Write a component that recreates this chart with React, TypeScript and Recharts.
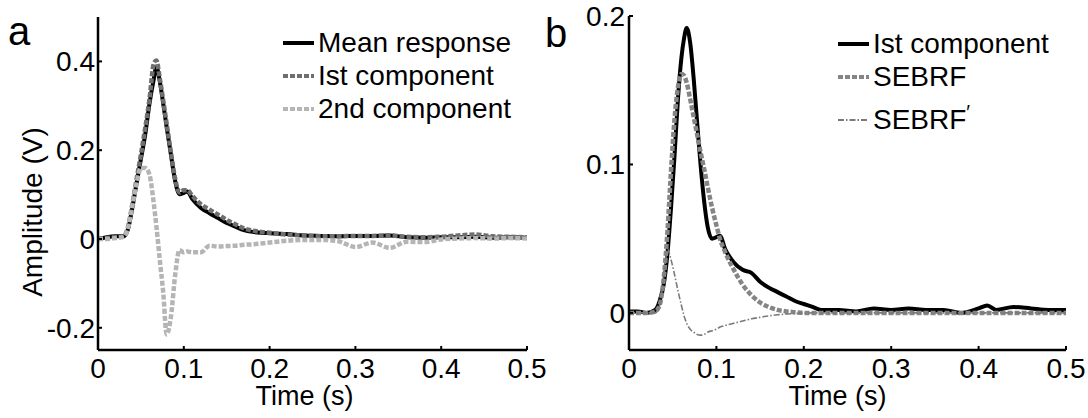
import React from "react";
import { LineChart, Line, XAxis, YAxis, Legend, Label } from "recharts";

const FONT = "'Liberation Sans', Arial, Helvetica, sans-serif";

// panel a: mean response and its two components
const timeA = [
  0, 0.01, 0.02, 0.03, 0.035, 0.04, 0.045, 0.05, 0.055, 0.06, 0.065, 0.068, 0.072, 0.076, 0.08,
  0.085, 0.09, 0.095, 0.1, 0.104, 0.11, 0.12, 0.13, 0.14, 0.15, 0.16, 0.17, 0.18, 0.19, 0.2,
  0.22, 0.24, 0.26, 0.28, 0.3, 0.32, 0.34, 0.36, 0.38, 0.4, 0.42, 0.44, 0.46, 0.48, 0.5,
];
const meanResponse = [
  0, 0.004, 0.006, 0.006, 0.022, 0.07, 0.126, 0.18, 0.235, 0.305, 0.36, 0.388, 0.355, 0.305, 0.252,
  0.19, 0.13, 0.101, 0.104, 0.107, 0.09, 0.07, 0.058, 0.047, 0.036, 0.028, 0.02, 0.016, 0.014, 0.013,
  0.011, 0.008, 0.007, 0.006, 0.007, 0.007, 0.008, 0.004, 0.003, 0.004, 0.004, 0.005, 0.003, 0.004, 0.003,
];
const firstCompA = [
  0, 0.002, 0.004, 0.006, 0.027, 0.078, 0.135, 0.19, 0.25, 0.315, 0.395, 0.402, 0.362, 0.312, 0.26,
  0.195, 0.135, 0.105, 0.11, 0.11, 0.097, 0.078, 0.066, 0.055, 0.043, 0.033, 0.024, 0.019, 0.016, 0.014,
  0.01, 0.008, 0.006, 0.006, 0.007, 0.007, 0.008, 0.005, 0.004, 0.005, 0.008, 0.01, 0.006, 0.005, 0.004,
];
const secondCompA = [
  0, 0, 0.002, 0.005, 0.025, 0.075, 0.125, 0.16, 0.16, 0.145, 0.08, 0.03, -0.047, -0.12, -0.215,
  -0.175, -0.08, -0.025, -0.03, -0.028, -0.03, -0.03, -0.015, -0.017, -0.016, -0.015, -0.013, -0.012, -0.01, -0.008,
  -0.004, -0.002, -0.002, -0.005, -0.018, -0.008, -0.02, -0.006, -0.007, -0.001, 0.001, 0.002, 0.001, 0.002, 0.001,
];

// panel b: first component against the SEBRF fit
const timeB = [
  0, 0.01, 0.02, 0.03, 0.035, 0.04, 0.044, 0.048, 0.052, 0.056, 0.06, 0.063, 0.066, 0.07, 0.074,
  0.078, 0.082, 0.086, 0.09, 0.095, 0.1, 0.104, 0.11, 0.12, 0.13, 0.14, 0.15, 0.16, 0.17, 0.18,
  0.19, 0.2, 0.21, 0.22, 0.24, 0.26, 0.28, 0.3, 0.32, 0.34, 0.36, 0.38, 0.4, 0.41, 0.42, 0.44,
  0.46, 0.48, 0.5,
];
const firstCompB = [
  0.001, 0.001, 0, 0.002, 0.008, 0.02, 0.04, 0.07, 0.105, 0.144, 0.172, 0.185, 0.192, 0.182, 0.158,
  0.128, 0.099, 0.075, 0.058, 0.05, 0.051, 0.052, 0.043, 0.034, 0.029, 0.027, 0.021, 0.017, 0.014, 0.011,
  0.008, 0.006, 0.004, 0.002, 0.002, 0.001, 0.003, 0.002, 0.003, 0.002, 0.002, 0, 0.003, 0.005, 0.002, 0.004,
  0.003, 0.002, 0.002,
];
const sebrf = [
  0, 0, 0, 0.001, 0.005, 0.025, 0.055, 0.095, 0.13, 0.152, 0.161, 0.16, 0.155, 0.144, 0.132,
  0.12, 0.108, 0.097, 0.085, 0.071, 0.059, 0.05, 0.041, 0.029, 0.019, 0.012, 0.007, 0.004, 0.002, 0.001,
  0.0005, 0, 0, 0, 0, 0, 0, 0, 0, 0, 0, 0, 0, 0, 0, 0,
  0, 0, 0,
];
const sebrfPrime = [
  0, 0, 0, 0, 0.005, 0.025, 0.043, 0.036, 0.026, 0.015, 0.005, -0.002, -0.007, -0.011, -0.013,
  -0.0145, -0.015, -0.0145, -0.013, -0.012, -0.011, -0.0095, -0.0085, -0.007, -0.0055, -0.004, -0.003, -0.002, -0.0013, -0.0008,
  -0.0004, -0.0002, 0, 0, 0, 0, 0, 0, 0, 0, 0, 0, 0, 0, 0, 0,
  0, 0, 0,
];

const xTicks = [0, 0.1, 0.2, 0.3, 0.4, 0.5];
const yTicksA = [-0.2, 0, 0.2, 0.4];
const yTicksB = [0, 0.1, 0.2];

type Series = { key: string; name: string; color: string; width: number; dash?: string };

const seriesA: Series[] = [
  { key: "mean", name: "Mean response", color: "#000000", width: 4 },
  { key: "first", name: "Ist component", color: "#6f6f6f", width: 4.5, dash: "5 2" },
  { key: "second", name: "2nd component", color: "#b5b5b5", width: 4.5, dash: "5 2" },
];
const seriesB: Series[] = [
  { key: "first", name: "Ist component", color: "#000000", width: 4 },
  { key: "sebrf", name: "SEBRF", color: "#858585", width: 4.5, dash: "5 2" },
  { key: "prime", name: "SEBRF′", color: "#7a7a7a", width: 1.6, dash: "6 2 1.5 2" },
];

const dataA = timeA.map((t, i) => ({
  t,
  mean: meanResponse[i],
  first: firstCompA[i],
  second: secondCompA[i],
}));
const dataB = timeB.map((t, i) => ({
  t,
  first: firstCompB[i],
  sebrf: sebrf[i],
  prime: sebrfPrime[i],
}));

const tickStyle = { fill: "#000", fontSize: 28, fontFamily: FONT };
const axisLine = { stroke: "#000", strokeWidth: 2.5 };
const tickLine = { stroke: "#000", strokeWidth: 2 };

function LegendBox({ items, gap }: { items: Series[]; gap: number }) {
  return (
    <div style={{ fontFamily: FONT, fontSize: 28, color: "#000", lineHeight: "32px" }}>
      {items.map((s, i) => {
        const prime = s.name.endsWith("′");
        const label = prime ? s.name.slice(0, -1) : s.name;
        return (
          <div
            key={s.key}
            style={{ display: "flex", alignItems: "center", height: 33, marginTop: i === 2 ? gap : 0 }}
          >
            <svg width={31} height={8} style={{ marginRight: 4, flex: "none" }}>
              <line
                x1={0}
                x2={31}
                y1={4}
                y2={4}
                stroke={s.color}
                strokeWidth={s.width < 2 ? 2 : 4}
                strokeDasharray={s.dash}
              />
            </svg>
            <span style={{ whiteSpace: "nowrap" }}>
              {label}
              {prime && <sup style={{ fontSize: 20, lineHeight: 0 }}>′</sup>}
            </span>
          </div>
        );
      })}
    </div>
  );
}

export default function App() {
  return (
    <div style={{ position: "absolute", left: 0, top: 0, width: 1088, height: 418, background: "#fff", fontFamily: FONT }}>
      <div style={{ position: "absolute", left: 0, top: 0 }}>
        <LineChart width={560} height={418} data={dataA} margin={{ top: 17, right: 33, bottom: 0, left: 0 }}>
          <XAxis
            dataKey="t"
            type="number"
            domain={[0, 0.5]}
            ticks={xTicks}
            height={68}
            axisLine={axisLine}
            tickLine={tickLine}
            tickSize={-4}
            tickMargin={12}
            tick={tickStyle}
            allowDataOverflow
          >
            <Label value="Time (s)" position="insideBottom" offset={13} dx={-8} fontSize={27} fill="#000" fontFamily={FONT} />
          </XAxis>
          <YAxis
            type="number"
            domain={[-0.25, 0.5]}
            ticks={yTicksA}
            width={98}
            axisLine={axisLine}
            tickLine={tickLine}
            tickSize={-4}
            tickMargin={7}
            tick={tickStyle}
            allowDataOverflow
          >
            <Label
              content={() => (
                <text x={42} y={212} transform="rotate(-90 42 212)" textAnchor="middle" fontSize={28} fill="#000" fontFamily={FONT}>
                  Amplitude (V)
                </text>
              )}
            />
          </YAxis>
          {seriesA.map((s) => (
            <Line
              key={s.key}
              dataKey={s.key}
              name={s.name}
              type="monotone"
              stroke={s.color}
              strokeWidth={s.width}
              strokeDasharray={s.dash}
              dot={false}
              activeDot={false}
              isAnimationActive={false}
            />
          ))}
          <Legend
            layout="vertical"
            align="center"
            verticalAlign="middle"
            wrapperStyle={{ top: 26, left: 283, width: 260 }}
            content={() => <LegendBox items={seriesA} gap={0} />}
          />
        </LineChart>
      </div>

      <div style={{ position: "absolute", left: 544, top: 0 }}>
        <LineChart width={544} height={418} data={dataB} margin={{ top: 16, right: 22, bottom: 0, left: 0 }}>
          <XAxis
            dataKey="t"
            type="number"
            domain={[0, 0.5]}
            ticks={xTicks}
            height={68}
            axisLine={axisLine}
            tickLine={tickLine}
            tickSize={-4}
            tickMargin={12}
            tick={tickStyle}
            allowDataOverflow
          >
            <Label value="Time (s)" position="insideBottom" offset={13} dx={-10} fontSize={27} fill="#000" fontFamily={FONT} />
          </XAxis>
          <YAxis
            type="number"
            domain={[-0.025, 0.2]}
            ticks={yTicksB}
            width={85}
            axisLine={axisLine}
            tickLine={tickLine}
            tickSize={-4}
            tickMargin={8}
            tick={tickStyle}
            allowDataOverflow
          />
          {seriesB.map((s) => (
            <Line
              key={s.key}
              dataKey={s.key}
              name={s.name}
              type="monotone"
              stroke={s.color}
              strokeWidth={s.width}
              strokeDasharray={s.dash}
              dot={false}
              activeDot={false}
              isAnimationActive={false}
            />
          ))}
          <Legend
            layout="vertical"
            align="center"
            verticalAlign="middle"
            wrapperStyle={{ top: 27, left: 294, width: 240 }}
            content={() => <LegendBox items={seriesB} gap={10} />}
          />
        </LineChart>
      </div>

      <div style={{ position: "absolute", left: 8, top: 11, fontSize: 40, lineHeight: "40px", color: "#000" }}>a</div>
      <div style={{ position: "absolute", left: 545, top: 13, fontSize: 40, lineHeight: "40px", color: "#000" }}>b</div>
    </div>
  );
}
